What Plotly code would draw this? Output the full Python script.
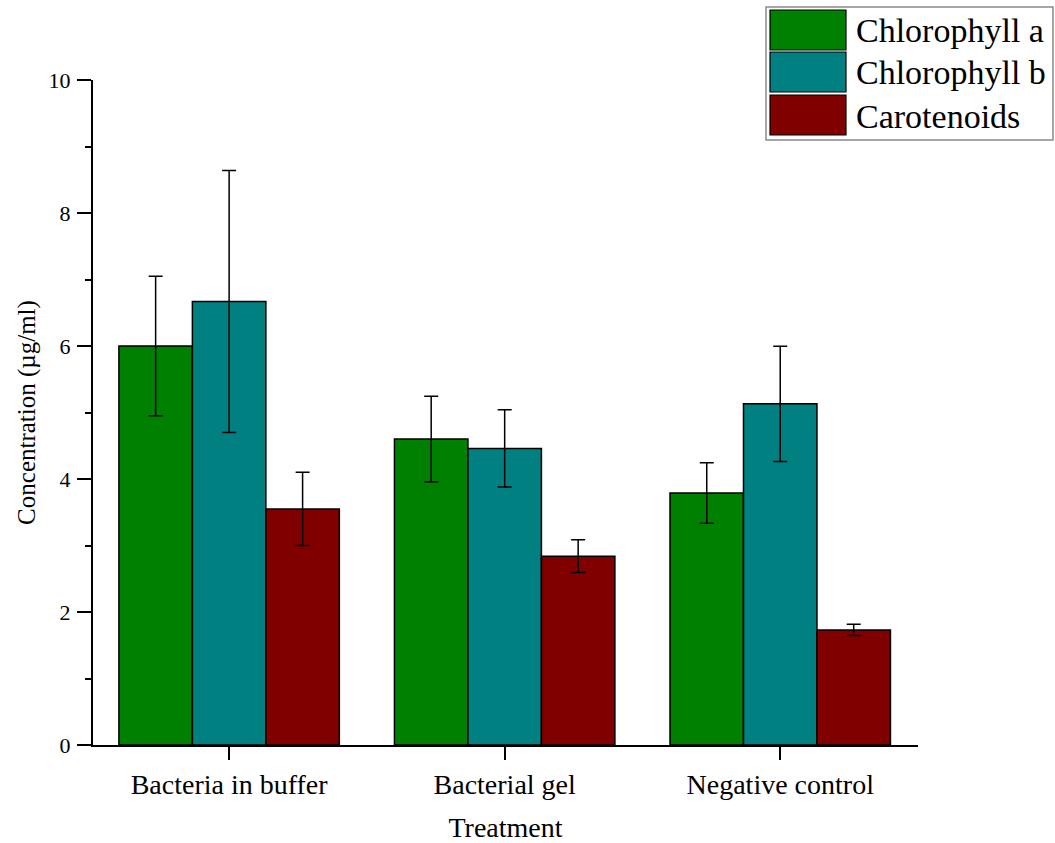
import plotly.graph_objects as go

# Pigment concentrations per treatment (mean and error)
treatments = ["Bacteria in buffer", "Bacterial gel", "Negative control"]
series_names = ["Chlorophyll a", "Chlorophyll b", "Carotenoids"]
chl_a = [6.00, 4.60, 3.79]
chl_a_err = [1.05, 0.645, 0.455]
chl_b = [6.67, 4.46, 5.13]
chl_b_err = [1.97, 0.58, 0.865]
carot = [3.55, 2.84, 1.73]
carot_err = [0.55, 0.245, 0.085]
y_ticks = [0, 2, 4, 6, 8, 10]

colors = ["#008000", "#008080", "#800000"]
values = [chl_a, chl_b, carot]
errors = [chl_a_err, chl_b_err, carot_err]

FONT = "Liberation Serif, Times New Roman, serif"

fig = go.Figure()
for name, vals, errs, col in zip(series_names, values, errors, colors):
    fig.add_trace(go.Bar(
        name=name, x=treatments, y=vals,
        marker=dict(color=col, line=dict(color="#000000", width=1.5)),
        error_y=dict(type="data", array=errs, visible=True,
                     color="#000000", thickness=1.5, width=7),
        showlegend=False,
    ))

# plot area in pixels
L, R, T, B = 93, 137, 80, 98
W, H = 1055, 843
pw, ph = W - L - R, H - T - B

def px(xp):
    return (xp - L) / pw

def py(yp):
    return (H - B - yp) / ph

shapes = []
annotations = []
# legend frame
shapes.append(dict(type="rect", xref="paper", yref="paper",
                   x0=px(766), x1=px(1053), y0=py(140), y1=py(7),
                   line=dict(color="#8a8a8a", width=1.5), fillcolor="white", layer="below"))
sw_tops = [10, 52, 95]
for name, col, top in zip(series_names, colors, sw_tops):
    shapes.append(dict(type="rect", xref="paper", yref="paper",
                       x0=px(770), x1=px(846), y0=py(top + 40), y1=py(top),
                       line=dict(color="#000000", width=1.2), fillcolor=col))
    annotations.append(dict(xref="paper", yref="paper", x=px(854), y=py(top + 21),
                            text=name, showarrow=False, xanchor="left", yanchor="middle",
                            font=dict(family=FONT, size=34, color="#000000")))

fig.update_layout(
    width=W, height=H,
    margin=dict(l=L, r=R, t=T, b=B, pad=0, autoexpand=False),
    paper_bgcolor="white", plot_bgcolor="white",
    barmode="group", bargap=0.2, bargroupgap=0,
    font=dict(family=FONT, color="#000000"),
    shapes=shapes, annotations=annotations,
    xaxis=dict(
        range=[-0.494, 2.5], showline=True, linecolor="#000000", linewidth=2,
        ticks="outside", ticklen=13, tickwidth=1.5, tickcolor="#000000",
        tickfont=dict(family=FONT, size=28), showgrid=False, zeroline=False,
        automargin=False,
        title=dict(text="Treatment", font=dict(family=FONT, size=28), standoff=24),
    ),
    yaxis=dict(
        range=[0, 10], tickvals=y_ticks, showline=True, linecolor="#000000", linewidth=2,
        ticks="outside", ticklen=14, tickwidth=1.5, tickcolor="#000000",
        tickfont=dict(family=FONT, size=22), showgrid=False, zeroline=False,
        ticklabelstandoff=2, automargin=False,
        minor=dict(tickvals=[1, 3, 5, 7, 9], ticks="outside", ticklen=6,
                   tickwidth=1.5, tickcolor="#000000", showgrid=False),
        title=dict(text="Concentration (µg/ml)", font=dict(family=FONT, size=25), standoff=6),
    ),
)

fig.write_html("out.html")
